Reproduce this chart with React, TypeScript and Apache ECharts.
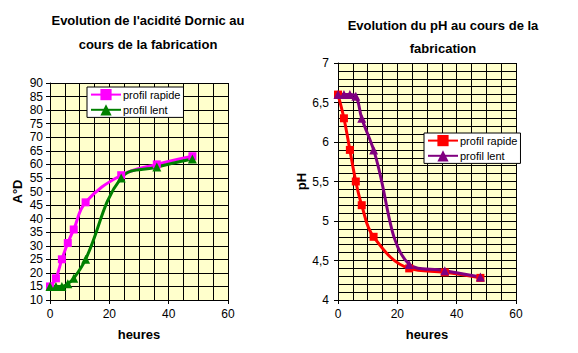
import React, { useEffect, useRef } from "react";
import * as echarts from "echarts";

const hours = [0, 2, 4, 6, 8, 12, 24, 36, 48];
const acidRapide = [15, 18, 25, 31, 36, 46, 56, 60, 63];
const acidLent = [15, 15, 15, 16, 18, 25, 55, 59, 62];
const phRapide = [6.6, 6.3, 5.9, 5.5, 5.2, 4.8, 4.4, 4.35, 4.28];
const phLent = [6.6, 6.6, 6.6, 6.58, 6.3, 5.9, 4.45, 4.37, 4.29];

const titleLeft = "Evolution de l'acidité Dornic au\ncours de la fabrication";
const titleRight = "Evolution du pH au cours de la\nfabrication";
const nameRapide = "profil rapide";
const nameLent = "profil lent";

const pairs = (ys: number[]) => hours.map((h, i) => [h, ys[i]]);

const FONT = "Liberation Sans, Arial, sans-serif";

export default function App() {
  const ref = useRef<HTMLDivElement>(null);
  useEffect(() => {
    document.body.style.margin = "0";
    const chart = echarts.init(ref.current!, undefined, { renderer: "svg" });
    const axisLabel = { color: "#000", fontFamily: FONT, fontSize: 12 };
    const xAxisBase = {
      type: "value",
      min: 0,
      max: 60,
      interval: 20,
      axisLine: { show: true, lineStyle: { color: "#000", width: 1 } },
      axisTick: { show: true, inside: false, length: 4, lineStyle: { color: "#000" } },
      axisLabel: { ...axisLabel, margin: 8 },
      splitLine: { show: true, lineStyle: { color: "#000", width: 1 } },
      minorTick: { show: false, splitNumber: 4 },
      minorSplitLine: { show: true, lineStyle: { color: "#000", width: 1 } },
      name: "heures",
      nameLocation: "middle",
      nameGap: 28,
      nameTextStyle: { color: "#000", fontFamily: FONT, fontSize: 13, fontWeight: "bold" },
    };
    const legendBase = {
      orient: "vertical",
      backgroundColor: "#fff",
      borderColor: "#000",
      borderWidth: 1,
      borderRadius: 0,
      padding: [2, 3],
      itemWidth: 30,
      itemHeight: 14,
      itemGap: 4,
      textStyle: { color: "#000", fontFamily: FONT, fontSize: 11, padding: [0, 0, 0, -3] },
      formatter: (n: string) => n.trim(),
    };
    const titleStyle = { fontFamily: FONT, fontSize: 13, fontWeight: "bold", color: "#000", lineHeight: 24 };
    chart.setOption({
      animation: false,
      backgroundColor: "#fff",
      title: [
        { text: titleLeft, left: 143, top: 3, textAlign: "center", textStyle: titleStyle },
        { text: titleRight, left: 438, top: 9, textAlign: "center", textStyle: { ...titleStyle, lineHeight: 23 } },
      ],
      legend: [
        { ...legendBase, left: 87, top: 87, data: [nameRapide, nameLent] },
        { ...legendBase, left: 424, top: 133, data: [nameRapide + " ", nameLent + " "] },
      ],
      grid: [
        { left: 50, top: 83, width: 178, height: 217, show: true, backgroundColor: "#FFFFCC", borderWidth: 0 },
        { left: 338, top: 63, width: 178, height: 237, show: true, backgroundColor: "#FFFFCC", borderWidth: 0 },
      ],
      xAxis: [
        { ...xAxisBase, gridIndex: 0 },
        { ...xAxisBase, gridIndex: 1 },
      ],
      yAxis: [
        {
          type: "value",
          gridIndex: 0,
          min: 10,
          max: 90,
          interval: 5,
          axisLine: { show: true, lineStyle: { color: "#000" } },
          axisTick: { show: true, inside: false, length: 4, lineStyle: { color: "#000" } },
          axisLabel: { ...axisLabel, margin: 7 },
          splitLine: { show: true, lineStyle: { color: "#000", width: 1 } },
          name: "A°D",
          nameLocation: "middle",
          nameGap: 26,
          nameTextStyle: { color: "#000", fontFamily: FONT, fontSize: 13, fontWeight: "bold" },
        },
        {
          type: "value",
          gridIndex: 1,
          min: 4,
          max: 7,
          interval: 0.5,
          axisLine: { show: true, lineStyle: { color: "#000" } },
          axisTick: { show: true, inside: false, length: 4, lineStyle: { color: "#000" } },
          axisLabel: { ...axisLabel, margin: 9, formatter: (v: number) => String(v).replace(".", ",") },
          splitLine: { show: true, lineStyle: { color: "#000", width: 1 } },
          minorTick: { show: false, splitNumber: 5 },
          minorSplitLine: { show: true, lineStyle: { color: "#000", width: 1 } },
          name: "pH",
          nameLocation: "middle",
          nameGap: 29,
          nameTextStyle: { color: "#000", fontFamily: FONT, fontSize: 13, fontWeight: "bold" },
        },
      ],
      series: [
        {
          name: nameRapide,
          type: "line",
          xAxisIndex: 0,
          yAxisIndex: 0,
          data: pairs(acidRapide),
          smooth: 0.4,
          symbol: "rect",
          symbolSize: 8,
          lineStyle: { color: "#FF00FF", width: 3 },
          itemStyle: { color: "#FF00FF" },
        },
        {
          name: nameLent,
          type: "line",
          xAxisIndex: 0,
          yAxisIndex: 0,
          data: pairs(acidLent),
          smooth: 0.4,
          symbol: "triangle",
          symbolSize: 9,
          lineStyle: { color: "#008000", width: 3 },
          itemStyle: { color: "#008000" },
        },
        {
          name: nameRapide + " ",
          type: "line",
          xAxisIndex: 1,
          yAxisIndex: 1,
          data: pairs(phRapide),
          smooth: 0.4,
          symbol: "rect",
          symbolSize: 8,
          lineStyle: { color: "#FF0000", width: 3 },
          itemStyle: { color: "#FF0000" },
        },
        {
          name: nameLent + " ",
          type: "line",
          xAxisIndex: 1,
          yAxisIndex: 1,
          data: pairs(phLent),
          smooth: 0.4,
          symbol: "triangle",
          symbolSize: 9,
          lineStyle: { color: "#800080", width: 3 },
          itemStyle: { color: "#800080" },
        },
      ],
    });
    return () => chart.dispose();
  }, []);
  return <div ref={ref} style={{ width: 578, height: 353 }} />;
}
